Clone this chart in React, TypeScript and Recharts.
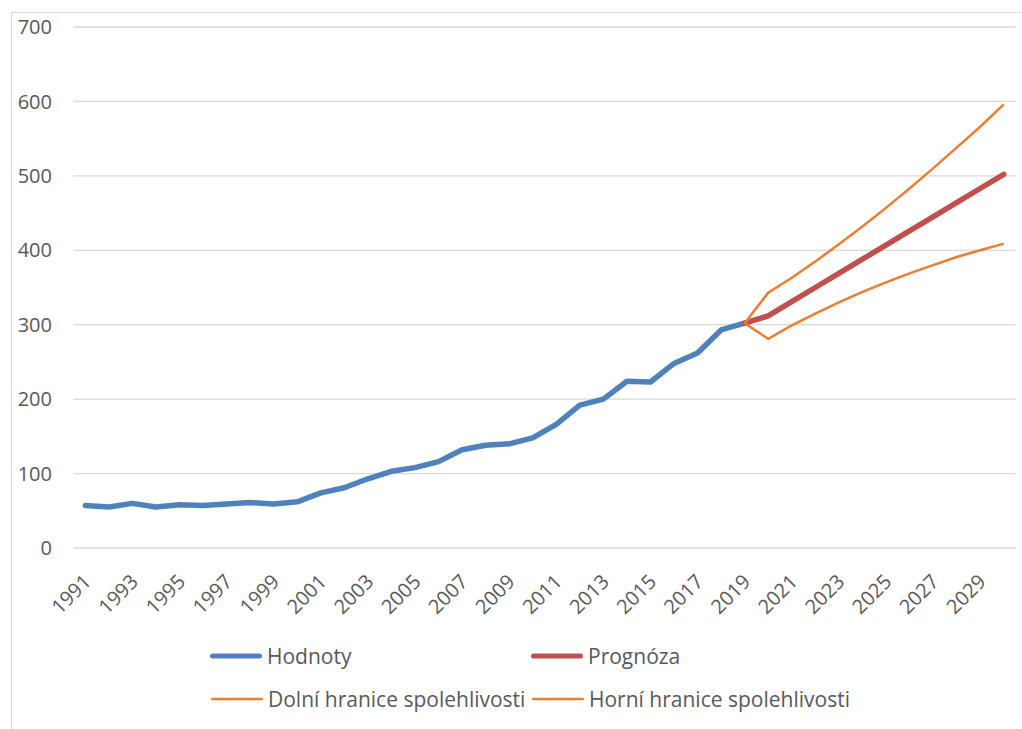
import React from 'react';
import { LineChart, Line, XAxis, YAxis, CartesianGrid, Legend } from 'recharts';

const years = [
  '1991', '1992', '1993', '1994', '1995', '1996', '1997', '1998', '1999', '2000',
  '2001', '2002', '2003', '2004', '2005', '2006', '2007', '2008', '2009', '2010',
  '2011', '2012', '2013', '2014', '2015', '2016', '2017', '2018', '2019', '2020',
  '2021', '2022', '2023', '2024', '2025', '2026', '2027', '2028', '2029', '2030',
];

// observed values 1991–2019
const hodnoty = [
  57, 55, 60, 55, 58, 57, 59, 61, 59, 62,
  74, 81, 93, 103, 108, 116, 132, 138, 140, 148,
  166, 192, 200, 224, 223, 248, 262, 293, 302,
];

// forecast and confidence bounds 2019–2030
const prognoza = [302, 312, 331, 350, 369, 388, 407, 426, 445, 464, 483, 502];
const dolni = [302, 281, 299, 315, 330, 344, 357, 369, 380, 391, 400, 409];
const horni = [302, 343, 363, 385, 408, 432, 457, 483, 510, 538, 566, 596];

const yTicks = [0, 100, 200, 300, 400, 500, 600, 700];

const forecastStart = years.indexOf('2019');

const data = years.map((year, i) => {
  const f = i - forecastStart;
  return {
    year,
    hodnoty: i < hodnoty.length ? hodnoty[i] : null,
    prognoza: f >= 0 ? prognoza[f] : null,
    dolni: f >= 0 ? dolni[f] : null,
    horni: f >= 0 ? horni[f] : null,
  };
});

const FONT = '"Open Sans", sans-serif';
const TEXT = '#595959';
const GRID = '#d9d9d9';
const BLUE = '#4f81bd';
const RED = '#c0504d';
const ORANGE = '#ed7d31';

const YearTick = (props: any) => {
  const { x, y, payload } = props;
  return (
    <g transform={`translate(${x + 7},${y + 33}) rotate(-45)`}>
      <text textAnchor="end" fill={TEXT} fontSize={20} fontFamily={FONT}>
        {payload.value}
      </text>
    </g>
  );
};

const legendItems = [
  { label: 'Hodnoty', color: BLUE, width: 5, left: 209, top: 0 },
  { label: 'Prognóza', color: RED, width: 5, left: 530, top: 0 },
  { label: 'Dolní hranice spolehlivosti', color: ORANGE, width: 2.5, left: 210, top: 43 },
  { label: 'Horní hranice spolehlivosti', color: ORANGE, width: 2.5, left: 531, top: 43 },
];

const LegendBox = () => (
  <div style={{ position: 'relative', width: 1022, height: 80 }}>
    {legendItems.map((it) => (
      <div
        key={it.label}
        style={{ position: 'absolute', left: it.left, top: it.top, height: 28, display: 'flex', alignItems: 'center' }}
      >
        <svg width={54} height={10} style={{ display: 'block' }}>
          <line
            x1={it.width / 2 + 1}
            y1={5}
            x2={53 - it.width / 2}
            y2={5}
            stroke={it.color}
            strokeWidth={it.width}
            strokeLinecap="round"
          />
        </svg>
        <span style={{ marginLeft: 4, fontSize: 21, color: TEXT, fontFamily: FONT, whiteSpace: 'nowrap' }}>
          {it.label}
        </span>
      </div>
    ))}
  </div>
);

export default function App() {
  return (
    <div
      style={{
        position: 'absolute',
        left: 0,
        top: 0,
        width: 1022,
        height: 729,
        overflow: 'hidden',
        background: '#ffffff',
        fontFamily: FONT,
      }}
    >
      <div
        style={{
          position: 'absolute',
          left: 11,
          top: 12,
          width: 1040,
          height: 740,
          borderLeft: `1.5px solid ${GRID}`,
          borderTop: `1.5px solid ${GRID}`,
        }}
      />
      <div style={{ position: 'absolute', left: 0, top: 0 }}>
        <LineChart width={1022} height={729} data={data} margin={{ top: 27, right: 6.5, left: 0, bottom: 121 }}>
          <CartesianGrid vertical={false} stroke={GRID} strokeWidth={1.3} />
          <XAxis
            dataKey="year"
            interval={1}
            axisLine={false}
            tickLine={false}
            tickSize={0}
            height={60}
            padding={{ left: 11.8, right: 11.8 }}
            tick={<YearTick />}
          />
          <YAxis
            domain={[0, 700]}
            ticks={yTicks}
            width={73.5}
            axisLine={false}
            tickLine={false}
            tickSize={0}
            tickMargin={21.5}
            tick={{ fill: TEXT, fontSize: 20, fontFamily: FONT }}
          />
          <Legend
            verticalAlign="middle"
            align="center"
            content={<LegendBox />}
            wrapperStyle={{ position: 'absolute', left: 0, top: 642, width: 1022 }}
          />
          <Line
            type="linear"
            dataKey="hodnoty"
            name="Hodnoty"
            stroke={BLUE}
            strokeWidth={5.5}
            strokeLinecap="round"
            strokeLinejoin="round"
            dot={false}
            isAnimationActive={false}
          />
          <Line
            type="linear"
            dataKey="prognoza"
            name="Prognóza"
            stroke={RED}
            strokeWidth={5.5}
            strokeLinecap="round"
            strokeLinejoin="round"
            dot={false}
            isAnimationActive={false}
          />
          <Line
            type="linear"
            dataKey="dolni"
            name="Dolní hranice spolehlivosti"
            stroke={ORANGE}
            strokeWidth={2.5}
            dot={false}
            isAnimationActive={false}
          />
          <Line
            type="linear"
            dataKey="horni"
            name="Horní hranice spolehlivosti"
            stroke={ORANGE}
            strokeWidth={2.5}
            dot={false}
            isAnimationActive={false}
          />
        </LineChart>
      </div>
    </div>
  );
}
